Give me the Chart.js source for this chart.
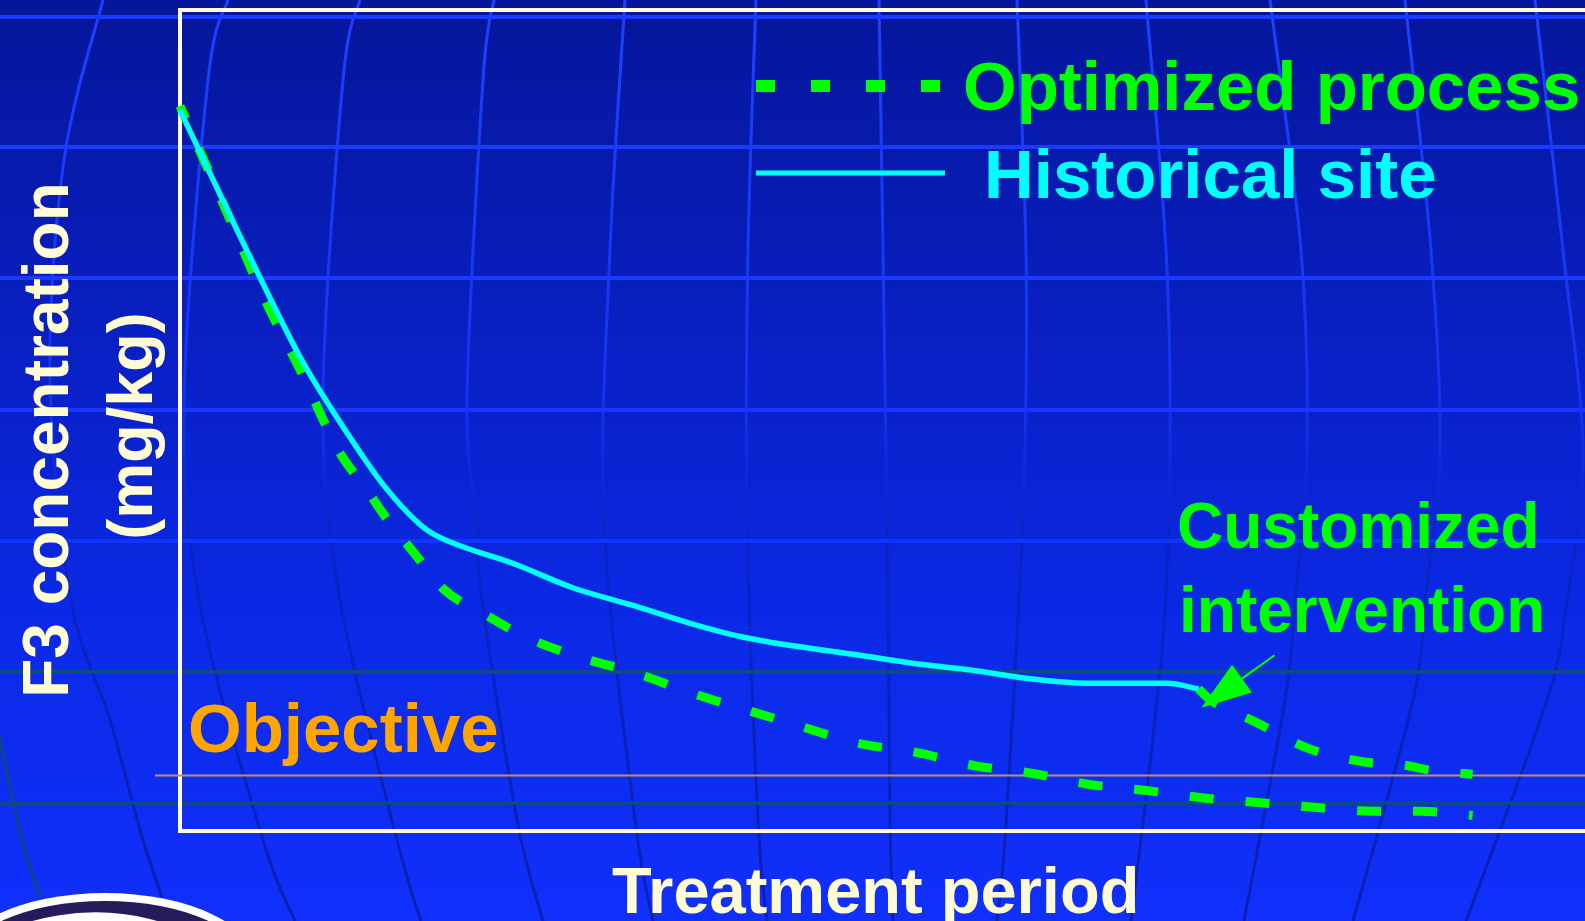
<!DOCTYPE html>
<html>
<head>
<meta charset="utf-8">
<script src="https://cdn.jsdelivr.net/npm/chart.js@4.4.1/dist/chart.umd.min.js"></script>
<style>
  html, body { margin: 0; padding: 0; background: #0a22cc; overflow: hidden; }
  canvas { display: block; }
</style>
</head>
<body>
<canvas id="chart" width="1585" height="921"></canvas>
<script>
// Treatment period (relative units) and F3 concentration (relative units)
const periodHistorical = [0, 5.9, 8.75, 12.0, 14.5, 17.1, 18.1, 24.0, 28.0, 32.2, 36.3, 40.4, 48.4, 52.7, 56.3, 60.2, 64.6, 70.3, 72.5];
const historicalSite   = [87.8, 66.7, 57.1, 48.2, 42.1, 37.3, 36.1, 32.4, 29.6, 27.5, 25.3, 23.5, 21.4, 20.3, 19.6, 18.6, 18.0, 18.0, 17.3];

const periodOptimized  = [0, 3.35, 6.05, 8.54, 11.4, 13.2, 14.9, 16.6, 18.8, 21.9, 24.4, 28.0, 32.5, 36.4, 40.4, 44.1, 48.2, 52.3, 56.7, 60.4, 64.6, 68.9, 73.0, 76.5, 80.7, 84.9, 88.4, 92.0];
const optimizedProcess = [88.3, 75.3, 64.7, 56.2, 46.0, 41.8, 37.6, 34.0, 29.4, 26.2, 23.8, 21.4, 19.2, 16.8, 14.7, 12.8, 10.7, 9.6, 7.9, 7.1, 5.7, 4.9, 4.0, 3.5, 2.9, 2.4, 2.4, 1.9];

const periodCustomized = [72.5, 73.3, 76.4, 80.4, 84.3, 87.2, 89.0, 92.0];
const customizedIntervention = [17.3, 16.0, 13.4, 10.0, 8.4, 8.0, 7.4, 6.9];

const objectiveLevel = 6.8;

// Annotation arrow pointing at the start of the customized branch: [period, concentration]
const arrowTail = [77.9, 21.4];
const arrowTip  = [72.7, 15.0];

const seriesLabels = ['Optimized process', 'Historical site'];

const toPoints = (xs, ys) => xs.map((x, i) => ({ x: x, y: ys[i] }));

const FONT = '"Liberation Sans", Arial, Helvetica, sans-serif';
const CREAM = '#fffbd6';
const GREEN = '#00ff00';
const CYAN = '#00ffff';

// Globe-style meridians of the slide backdrop
const meridians = [
  [[-20, 640], [22, 840], [50, 921]],
  [[103, 0], [64, 160], [50, 380], [71, 600], [110, 720], [143, 840], [170, 921]],
  [[228, 0], [208, 80], [184, 400], [199, 600], [263, 840], [295, 921]],
  [[360, 0], [343, 80], [323, 400], [340, 600], [397, 840], [421, 921]],
  [[494, 0], [483, 80], [467, 400], [477, 520], [482, 600], [517, 820], [543, 921]],
  [[625, 0], [610, 250], [604, 520], [635, 820], [653, 921]],
  [[756, 0], [748, 250], [747, 520], [758, 820], [767, 921]],
  [[879, 0], [883, 250], [887, 520], [890, 820], [893, 921]],
  [[1017, 0], [1026, 250], [1025, 450], [1019, 600], [1005, 840], [997, 921]],
  [[1146, 0], [1166, 250], [1170, 450], [1162, 650], [1131, 921]],
  [[1270, 0], [1301, 250], [1307, 450], [1295, 600], [1285, 700], [1244, 921]],
  [[1405, 0], [1431, 250], [1440, 450], [1425, 600], [1413, 700], [1353, 921]],
  [[1535, 0], [1563, 250], [1583, 450], [1567, 600], [1547, 700], [1466, 921]]
];
const latitudes = [
  { y: 17, c: '#1a3aff' }, { y: 147, c: '#1a3aff' }, { y: 278, c: '#1a3aff' },
  { y: 410, c: '#1838ff' }, { y: 541, c: '#1234ff' },
  { y: 672, c: '#0a4a88' }, { y: 803, c: '#0a4a88' }
];

function smoothPath(ctx, pts) {
  ctx.moveTo(pts[0][0], pts[0][1]);
  for (let i = 0; i < pts.length - 1; i++) {
    const p0 = pts[i - 1] || pts[i], p1 = pts[i], p2 = pts[i + 1], p3 = pts[i + 2] || p2;
    ctx.bezierCurveTo(
      p1[0] + (p2[0] - p0[0]) / 6, p1[1] + (p2[1] - p0[1]) / 6,
      p2[0] - (p3[0] - p1[0]) / 6, p2[1] - (p3[1] - p1[1]) / 6,
      p2[0], p2[1]);
  }
}

const backdrop = {
  id: 'backdrop',
  beforeDraw(chart) {
    const ctx = chart.ctx, W = chart.width, H = chart.height;
    ctx.save();
    const bg = ctx.createLinearGradient(0, 0, 0, H);
    bg.addColorStop(0, '#05169a');
    bg.addColorStop(0.45, '#0a22cc');
    bg.addColorStop(0.65, '#0b29e4');
    bg.addColorStop(1, '#1030fc');
    ctx.fillStyle = bg;
    ctx.fillRect(0, 0, W, H);

    const mg = ctx.createLinearGradient(0, 0, 0, H);
    mg.addColorStop(0, '#1e40ff');
    mg.addColorStop(0.42, '#1534f2');
    mg.addColorStop(0.58, '#0a24c6');
    mg.addColorStop(1, '#0a20b2');
    ctx.lineWidth = 3;
    meridians.forEach((m, i) => {
      ctx.beginPath();
      smoothPath(ctx, m);
      ctx.strokeStyle = i === 0 ? '#0a4a80' : mg;
      ctx.stroke();
    });

    ctx.lineWidth = 4;
    latitudes.forEach(l => {
      ctx.beginPath();
      ctx.moveTo(0, l.y);
      ctx.lineTo(W, l.y);
      ctx.strokeStyle = l.c;
      ctx.stroke();
    });

    // emblem in the lower-left corner
    ctx.beginPath();
    ctx.ellipse(105, 966, 152, 73, 0, 0, Math.PI * 2);
    ctx.fillStyle = '#ffffff';
    ctx.fill();
    ctx.beginPath();
    ctx.ellipse(105, 968, 145, 67, 0, 0, Math.PI * 2);
    ctx.fillStyle = '#261c5c';
    ctx.fill();
    ctx.beginPath();
    ctx.ellipse(95, 975, 118, 58, 0, Math.PI * 1.15, Math.PI * 1.95);
    ctx.strokeStyle = '#ffffff';
    ctx.lineWidth = 9;
    ctx.stroke();
    ctx.restore();
  },
  beforeDatasetsDraw(chart) {
    const ctx = chart.ctx, a = chart.chartArea, W = chart.width;
    const yS = chart.scales.y;
    ctx.save();
    // plot frame
    ctx.strokeStyle = '#fffbe0';
    ctx.lineWidth = 4;
    ctx.beginPath();
    ctx.moveTo(W + 5, a.top);
    ctx.lineTo(a.left, a.top);
    ctx.lineTo(a.left, a.bottom);
    ctx.lineTo(W + 5, a.bottom);
    ctx.stroke();
    // objective level
    const yo = Math.round(yS.getPixelForValue(objectiveLevel)) + 0.5;
    ctx.strokeStyle = '#c0906a';
    ctx.lineWidth = 2;
    ctx.beginPath();
    ctx.moveTo(a.left - 25, yo);
    ctx.lineTo(W, yo);
    ctx.stroke();
    ctx.restore();
  }
};

const annotations = {
  id: 'annotations',
  afterDraw(chart) {
    const ctx = chart.ctx;
    const xS = chart.scales.x, yS = chart.scales.y;
    ctx.save();
    ctx.textBaseline = 'alphabetic';
    ctx.textAlign = 'left';

    // axis titles
    ctx.fillStyle = CREAM;
    ctx.font = 'bold 64px ' + FONT;
    ctx.save();
    ctx.translate(68, 440);
    ctx.rotate(-Math.PI / 2);
    ctx.textAlign = 'center';
    ctx.fillText('F3 concentration', 0, 0);
    ctx.restore();
    ctx.save();
    ctx.font = 'bold 63px ' + FONT;
    ctx.translate(152, 426);
    ctx.rotate(-Math.PI / 2);
    ctx.textAlign = 'center';
    ctx.fillText('(mg/kg)', 0, 0);
    ctx.restore();
    ctx.font = 'bold 65px ' + FONT;
    ctx.fillText('Treatment period', 612, 913);

    // objective label
    ctx.fillStyle = '#ffa500';
    ctx.font = 'bold 69px ' + FONT;
    ctx.fillText('Objective', 188, 752);

    // customized intervention label
    ctx.fillStyle = GREEN;
    ctx.font = 'bold 64px ' + FONT;
    ctx.fillText('Customized', 1177, 548);
    ctx.fillText('intervention', 1179, 632);

    // arrow
    const tx = xS.getPixelForValue(arrowTail[0]), ty = yS.getPixelForValue(arrowTail[1]);
    const px = xS.getPixelForValue(arrowTip[0]), py = yS.getPixelForValue(arrowTip[1]);
    const dx = px - tx, dy = py - ty, len = Math.hypot(dx, dy);
    const ux = dx / len, uy = dy / len;
    const headLen = 50, headHalf = 17;
    const bx = px - ux * headLen, by = py - uy * headLen;
    ctx.strokeStyle = GREEN;
    ctx.lineWidth = 2;
    ctx.beginPath();
    ctx.moveTo(tx, ty);
    ctx.lineTo(bx, by);
    ctx.stroke();
    ctx.fillStyle = GREEN;
    ctx.beginPath();
    ctx.moveTo(px, py);
    ctx.lineTo(bx - uy * headHalf, by + ux * headHalf);
    ctx.lineTo(bx + uy * headHalf, by - ux * headHalf);
    ctx.closePath();
    ctx.fill();

    // legend
    const ds = chart.data.datasets;
    ctx.font = 'bold 69px ' + FONT;
    ctx.lineCap = 'butt';
    ctx.strokeStyle = ds[1].borderColor;
    ctx.lineWidth = 12;
    ctx.setLineDash([19, 36]);
    ctx.beginPath();
    ctx.moveTo(756, 86);
    ctx.lineTo(943, 86);
    ctx.stroke();
    ctx.setLineDash([]);
    ctx.fillStyle = ds[1].borderColor;
    ctx.fillText(ds[1].label, 963, 110);

    ctx.strokeStyle = ds[0].borderColor;
    ctx.lineWidth = 5;
    ctx.beginPath();
    ctx.moveTo(756, 173);
    ctx.lineTo(945, 173);
    ctx.stroke();
    ctx.fillStyle = ds[0].borderColor;
    ctx.fillText(ds[0].label, 984, 198);
    ctx.restore();
  }
};

new Chart(document.getElementById('chart'), {
  type: 'line',
  data: {
    datasets: [
      {
        label: seriesLabels[1],
        data: toPoints(periodHistorical, historicalSite),
        borderColor: CYAN,
        borderWidth: 5.5,
        pointRadius: 0,
        cubicInterpolationMode: 'monotone',
        clip: false,
        order: 1
      },
      {
        label: seriesLabels[0],
        data: toPoints(periodOptimized, optimizedProcess),
        borderColor: GREEN,
        borderWidth: 9,
        borderDash: [24, 32],
        borderDashOffset: 10,
        pointRadius: 0,
        cubicInterpolationMode: 'monotone',
        clip: false,
        order: 2
      },
      {
        label: 'Customized intervention',
        data: toPoints(periodCustomized, customizedIntervention),
        borderColor: GREEN,
        borderWidth: 9,
        borderDash: [24, 32],
        pointRadius: 0,
        cubicInterpolationMode: 'monotone',
        clip: false,
        order: 0
      }
    ]
  },
  options: {
    responsive: false,
    devicePixelRatio: 1,
    animation: false,
    layout: { padding: { left: 180, top: 10, right: 0, bottom: 90 } },
    plugins: { legend: { display: false }, tooltip: { enabled: false } },
    scales: {
      x: { type: 'linear', min: 0, max: 100, display: false },
      y: { type: 'linear', min: 0, max: 100, display: false }
    }
  },
  plugins: [backdrop, annotations]
});
</script>
</body>
</html>
